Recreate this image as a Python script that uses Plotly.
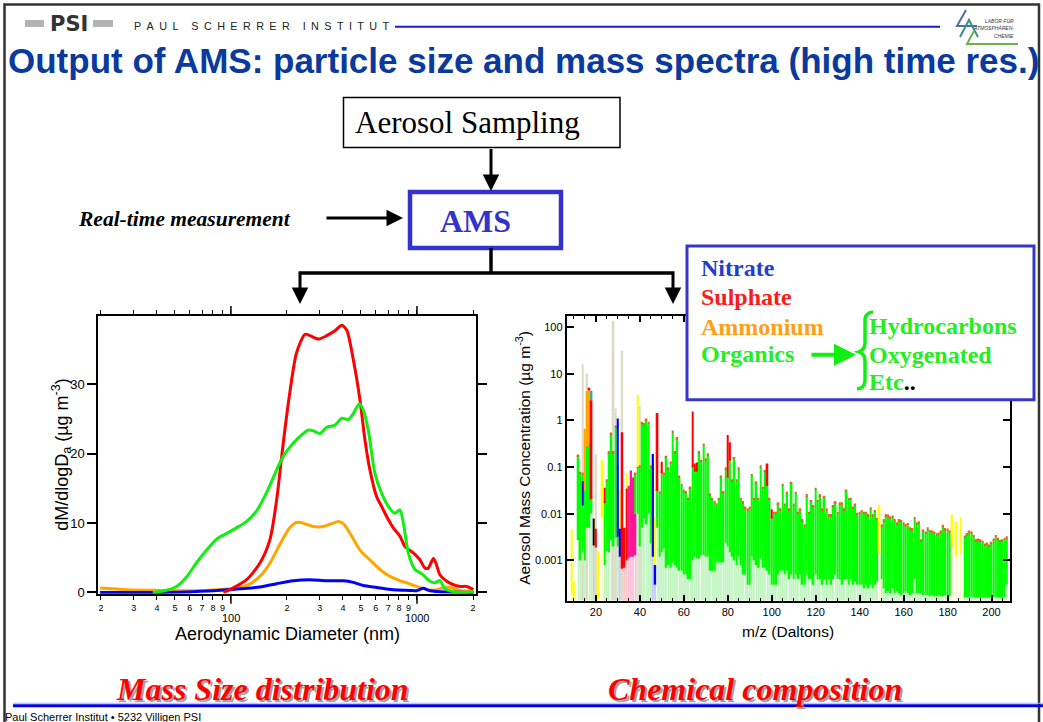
import math
import plotly.graph_objects as go

W, H = 1043, 722
K = 1.008  # small vertical calibration of the slide layout
def X(p): return p / W
def Y(p): return 1 - p * K / H
def P(x, y): return f"{X(x):.5f},{Y(y):.5f}"

SANS = "Liberation Sans, Arial, sans-serif"
SERIF = "Liberation Serif, Times New Roman, serif"

# ---------------- size distribution data (nm, ug m-3) ----------------
so4_d = [91, 100, 121, 143, 162, 176, 191, 207, 225, 250, 266, 295, 327, 362, 394, 419, 455, 494, 525, 558,
         607, 645, 701, 746, 810, 862, 955, 1037, 1104, 1151, 1224, 1265, 1330, 1445, 1568, 1702, 1849, 2010]
so4_v = [0, 0.48, 1.8, 4.2, 7.6, 13.3, 21.5, 28.7, 34.5, 37.2, 37.0, 36.5, 37.0, 37.7, 38.5, 37.8, 33.5, 27.7, 22.0, 17.7,
         13.8, 12.4, 10.5, 9.3, 8.1, 6.6, 5.7, 4.7, 3.5, 3.5, 4.9, 4.2, 2.5, 1.6, 1.1, 0.86, 0.86, 0.4]

org_d = [38, 45, 51, 58, 65, 74, 84, 95, 107, 121, 137, 155, 173, 191, 216, 240, 261, 277, 301, 327, 362, 394,
         428, 455, 490, 514, 547, 594, 645, 701, 762, 810, 845, 898, 975, 1059, 1175, 1250, 1330, 1413, 1568, 1774, 2010]
org_v = [0, 0.3, 0.86, 2.3, 4.2, 6.1, 7.7, 8.5, 9.3, 10.2, 11.7, 14.3, 17.2, 19.6, 21.5, 22.7, 23.4, 23.3, 22.9, 23.8, 24.1, 25.1,
         24.9, 25.8, 27.2, 26.3, 23.4, 17.2, 14.3, 12.4, 11.4, 11.9, 10.0, 5.7, 3.3, 2.7, 1.6, 1.4, 1.7, 0.5, 0.1, 0, 0.1]

nh4_d = [19.8, 27.5, 41.5, 62.7, 95, 121, 143, 162, 183, 207, 227, 250, 277, 314, 347, 378, 402, 446, 494, 558,
         632, 716, 810, 898, 995, 1127, 1275, 1445, 1702, 2010]
nh4_v = [0.62, 0.38, 0.29, 0.24, 0.48, 0.96, 2.3, 4.2, 6.9, 9.3, 10.1, 9.9, 9.5, 9.5, 9.9, 10.2, 9.9, 8.1, 6.1, 4.7,
         3.3, 2.3, 1.7, 1.3, 0.86, 0.38, 0.38, 0.77, 0.29, 0.1]

no3_d = [19.8, 41.5, 62.7, 95, 143, 176, 216, 266, 327, 402, 455, 514, 607, 746, 916, 995, 1081, 1175, 1445, 2010]
no3_v = [0, 0, 0.1, 0.38, 0.77, 1.25, 1.68, 1.82, 1.68, 1.68, 1.44, 1.0, 0.72, 0.38, 0.29, 0.24, 0.58, 0.24, 0.05, 0]

size_tickvals = [20, 30, 40, 50, 60, 70, 80, 90, 100, 200, 300, 400, 500, 600, 700, 800, 900, 1000, 2000]
size_ticktext = ["2", "3", "4", "5", "6", "7", "8", "9", "", "2", "3", "4", "5", "6", "7", "8", "9", "", "2"]
size_decade_labels = [100, 1000]

# ---------------- mass spectrum data (ug m-3) ----------------
mz = list(range(12, 208))
org_top = [
    0.17, 0.072, 0.07, 0.03, 0.27, 0.3, 0.02, None, None, None,            # 12-21
    None, None, 0.017, 0.05, 0.2, 0.5, 0.2, 0.72, 0.1, None,               # 22-31
    None, None, None, None, None, None, 0.07, 0.1, 0.1, 0.85,              # 32-41
    0.8, 1.0, 0.85, 0.1, None, None, 0.031, 0.028, 0.075, 0.07,            # 42-51
    0.16, 0.09, 0.12, 0.55, 0.2, 0.4, 0.06, 0.04, 0.03, 0.028,             # 52-61
    0.02, 0.035, 0.1, 0.08, 0.08, 0.2, 0.13, 0.29, 0.14, 0.18,             # 62-71
    0.025, 0.02, 0.017, 0.015, 0.02, 0.06, 0.028, 0.09, 0.06, 0.14,        # 72-81
    0.05, 0.15, 0.05, 0.09, 0.02, 0.017, 0.013, 0.012, 0.013, 0.065,       # 82-91
    0.02, 0.045, 0.02, 0.1, 0.035, 0.08, 0.04, 0.02, 0.008, 0.01,          # 92-101
    0.01, 0.016, 0.012, 0.04, 0.015, 0.027, 0.012, 0.044, 0.015, 0.027,    # 102-111
    0.01, 0.012, 0.007, 0.0054, 0.024, 0.01, 0.018, 0.014, 0.033, 0.018,   # 112-121
    0.024, 0.012, 0.022, 0.012, 0.009, 0.009, 0.014, 0.017, 0.01, 0.016,   # 122-131
    0.016, 0.012, 0.03, 0.02, 0.02, 0.013, 0.015, 0.0096, 0.01, 0.011,     # 132-141
    0.01, 0.01, 0.009, 0.0125, 0.009, 0.011, 0.0075, None, 0.0054, 0.007,  # 142-151
    0.009, 0.0088, 0.008, 0.0083, 0.007, 0.006, 0.007, 0.0068, 0.006, 0.0055,      # 152-161
    0.0058, 0.0047, 0.0045, 0.0078, 0.006, 0.0063, 0.0026, 0.0042, 0.0038, 0.0047, # 162-171
    0.0041, 0.004, 0.0038, 0.0035, 0.0036, 0.004, 0.0053, 0.0045, 0.0044, 0.004,   # 172-181
    None, None, None, None, None, None, 0.0031, 0.0035, 0.004, 0.0038,             # 182-191
    0.0032, 0.0026, 0.0027, 0.0026, 0.0024, 0.0021, 0.0022, 0.002, 0.0023, 0.0027, # 192-201
    0.0032, 0.0028, 0.0025, 0.0026, 0.0028, 0.003,                                 # 202-207
]
org_low = [
    0.0027, 0.001, 0.0015, 0.001, 0.005, 0.005, 0.01, None, None, None,
    None, None, 0.0008, 0.0016, 0.0015, 0.0027, 0.002, 0.003, 0.002, None,
    None, None, None, None, None, None, 0.01, 0.01, 0.002, 0.005,
    0.008, 0.006, 0.01, 0.0023, None, None, 0.005, 0.0012, 0.0015, 0.0018,
    0.0007, 0.0008, 0.0007, 0.0009, 0.0008, 0.0007, 0.0006, 0.0006, 0.0005, 0.0005,
    0.0004, 0.0004, 0.001, 0.0012, 0.0011, 0.0011, 0.0013, 0.0013, 0.0012, 0.0012,
    0.0006, 0.0006, 0.0006, 0.0009, 0.0009, 0.0009, 0.0009, 0.0024, 0.002, 0.0015,
    0.0012, 0.001, 0.0008, 0.0012, 0.0008, 0.0005, 0.0005, 0.0003, 0.0003, 0.0012,
    0.001, 0.0008, 0.0007, 0.0011, 0.0007, 0.0007, 0.0006, 0.0005, 0.0003, 0.0003,
    0.0003, 0.0005, 0.0006, 0.0006, 0.0005, 0.0006, 0.0004, 0.0005, 0.0004, 0.0005,
    0.0004, 0.0005, 0.0003, 0.0003, 0.0005, 0.0004, 0.0004, 0.0003, 0.0005, 0.0004,
    0.0004, 0.0003, 0.0004, 0.0003, 0.0004, 0.0003, 0.0004, 0.0005, 0.0004, 0.0004,
    0.0003, 0.0004, 0.0004, 0.0003, 0.0004, 0.0003, 0.00035, 0.0003, 0.0003, 0.0003,
    0.00025, 0.0003, 0.00025, 0.0003, 0.00025, 0.0003, 0.00035, None, 0.0004, 0.00025,
    0.0002, 0.00022, 0.0002, 0.00025, 0.0002, 0.00022, 0.0002, 0.00018, 0.0002, 0.00022,
    0.0002, 0.00018, 0.0002, 0.0004, 0.0002, 0.0002, 0.0002, 0.00018, 0.00018, 0.00018,
    0.00017, 0.00018, 0.00017, 0.00017, 0.00018, 0.00017, 0.00017, 0.00018, 0.00017, 0.00017,
    None, None, None, None, None, None, 0.00016, 0.00016, 0.00016, 0.00016,
    0.00016, 0.00016, 0.00016, 0.00016, 0.00016, 0.00016, 0.00016, 0.00016, 0.00016, 0.00016,
    0.00016, 0.00016, 0.00016, 0.00016, 0.00016, 0.0003,
]

air_mz = [14, 16, 20, 28, 29, 32, 40]
air_lo = [0.00014] * 7
air_hi = [16, 10, 0.19, 137, 1.8, 31, 2.0]

no3_mz = [14, 30, 31, 46, 47]
no3_lo = [0.015, 0.0032, 0.0012, 0.0012, 0.0003]
no3_hi = [0.05, 1.1, 0.0048, 0.19, 0.0008]

so4_mz = [17, 18, 20, 24, 32, 33, 34, 48, 50, 64, 65, 66, 80, 81, 98, 100]
so4_lo = [4.4, 0.021, 0.0019, 0.017, 0.00066, 0.0007, 0.001, 0.031, 0.075, 0.1, 0.08, 0.08, 0.06, 0.14, 0.04, 0.008]
so4_hi = [5.0, 2.7, 0.0048, 0.036, 0.56, 0.005, 0.035, 1.44, 0.13, 1.55, 0.12, 0.125, 0.49, 0.34, 0.12, 0.0125]

nh4_mz = [15, 16, 17]
nh4_lo = [0.03, 0.27, 0.3]
nh4_hi = [0.66, 4.2, 4.4]

chl_mz = [35, 36, 37, 38]
chl_lo = [0.0011, 0.0012, 0.0012, 0.0013]
chl_hi = [0.04, 0.085, 0.06, 0.01]

oth_mz = [9, 10, 21, 23, 31, 34, 39, 47, 149, 182, 184, 186]
oth_lo = [0.0002, 0.00014, 0.00015, 0.0085, 0.0048, 0.035, 0.1, 0.0008, 0.0014, 0.002, 0.0012, 0.0014]
oth_hi = [0.0047, 0.00035, 0.0016, 0.14, 0.031, 0.075, 3.5, 0.0085, 0.0155, 0.0095, 0.0068, 0.0083]

blk_mz = [19]
blk_lo = [0.0021]
blk_hi = [0.0079]

tea_mz = [18]
tea_lo = [2.7]
tea_hi = [4.3]

spec_tickvals = [0.001, 0.01, 0.1, 1, 10, 100]
spec_ticktext = ["0.001", "0.01", "0.1", "1", "10", "100"]

# ---------------- figure ----------------
GREEN, RED, ORANGE, BLUE = "#11ee11", "#ff0000", "#ffa500", "#0000ff"
fig = go.Figure()

for d, v, c in [(nh4_d, nh4_v, ORANGE), (no3_d, no3_v, BLUE), (so4_d, so4_v, RED), (org_d, org_v, GREEN)]:
    fig.add_trace(go.Scatter(x=d, y=v, mode="lines", xaxis="x", yaxis="y", hoverinfo="skip",
                             line=dict(color=c, width=3, shape="spline", smoothing=0.7)))

YLOG = [-3.864, 2.24]
FLOOR = 10 ** YLOG[0]

def seg(ms, lo, hi, color, width=0.8):
    xs, bs, ls = [], [], []
    for m, a, b in zip(ms, lo, hi):
        if a is None or b is None:
            continue
        xs.append(m); bs.append(a); ls.append(b - a)
    return go.Bar(x=xs, y=ls, base=bs, width=width, xaxis="x2", yaxis="y2", hoverinfo="skip",
                  marker=dict(color=color, line=dict(width=0)))

groups = [
    (mz, org_low, org_top, "#00ff00", "#c2f5c2"),
    (no3_mz, no3_lo, no3_hi, "#0000ff", "#c8c8ff"),
    (so4_mz, so4_lo, so4_hi, "#ff0000", "#ffc8c8"),
    (nh4_mz, nh4_lo, nh4_hi, "#ffa500", "#ffe2b0"),
    (chl_mz, chl_lo, chl_hi, "#ff1493", "#ffc2dc"),
    (oth_mz, oth_lo, oth_hi, "#ffff00", "#fffac0"),
    (blk_mz, blk_lo, blk_hi, "#000000", "#d0d0d0"),
    (tea_mz, tea_lo, tea_hi, "#20b2aa", "#c0eeee"),
]
lowest = {}
for ms, lo, hi, col, pale in groups:
    for m, a in zip(ms, lo):
        if a is None:
            continue
        if m not in lowest or a < lowest[m][0]:
            lowest[m] = (a, pale)
pale_cols = {}
for m, (a, pale) in lowest.items():
    pale_cols.setdefault(pale, ([], [], []))
    pale_cols[pale][0].append(m); pale_cols[pale][1].append(FLOOR); pale_cols[pale][2].append(a)
for pale, (ms, lo, hi) in pale_cols.items():
    fig.add_trace(seg(ms, lo, hi, pale, width=0.55))

fig.add_trace(seg(air_mz, air_lo, air_hi, "#dedac6"))
fig.add_trace(seg(mz, org_low, org_top, "#00ff00"))
cap_lo = [t for t in org_top]
cap_hi = [t * 1.1 if t is not None else None for t in org_top]
fig.add_trace(seg(mz, cap_lo, cap_hi, "#d86a2a"))
for ms, lo, hi, col, pale in groups[5:] + groups[3:5] + groups[1:3]:
    fig.add_trace(seg(ms, lo, hi, col))

# ---------------- axes ----------------
XL = [math.log10(19.37), math.log10(2068)]
LPX = (98.3, 475.7)
def size_px(d):
    return LPX[0] + (math.log10(d) - XL[0]) / (XL[1] - XL[0]) * (LPX[1] - LPX[0])

axcommon = dict(linecolor="black", linewidth=2, mirror="allticks", showgrid=False, zeroline=False,
                tickcolor="black")
fig.update_layout(
    width=W, height=H, margin=dict(l=0, r=0, t=0, b=0),
    paper_bgcolor="white", plot_bgcolor="white", showlegend=False, barmode="overlay",
    font=dict(family=SANS, color="black"),
    xaxis=dict(type="log", range=XL, domain=[X(LPX[0]), X(LPX[1])], anchor="y",
               tickmode="array", tickvals=size_tickvals, ticktext=size_ticktext,
               ticks="outside", ticklen=4, tickwidth=1, tickfont=dict(size=9, color="black", family=SANS), **axcommon),
    yaxis=dict(range=[-0.2, 39.85], domain=[Y(594), Y(316)], anchor="x", tickmode="array",
               tickvals=[0, 10, 20, 30], ticks="outside", ticklen=9, tickwidth=1.5,
               tickfont=dict(size=13, color="black", family=SANS), **axcommon),
    xaxis2=dict(range=[6.7, 208.4], domain=[X(566.7), X(1010)], anchor="y2", tick0=0, dtick=20,
                ticks="inside", ticklen=6, tickwidth=1.5,
                minor=dict(tick0=0, dtick=5, ticks="inside", ticklen=3, tickwidth=1, tickcolor="black"),
                tickfont=dict(size=11, color="black", family=SANS), **axcommon),
    yaxis2=dict(type="log", range=YLOG, domain=[Y(601), Y(316)], anchor="x2", tickmode="array",
                tickvals=spec_tickvals, ticktext=spec_ticktext, ticks="inside", ticklen=7, tickwidth=1.5,
                tickfont=dict(size=11, color="black", family=SANS), **axcommon),
)

# ---------------- slide decoration ----------------
shapes = []
def line(x0, y0, x1, y1, color="black", width=3):
    shapes.append(dict(type="line", xref="paper", yref="paper", x0=X(x0), y0=Y(y0), x1=X(x1), y1=Y(y1),
                       line=dict(color=color, width=width), layer="above"))
def rect(x0, y0, x1, y1, color="black", width=1, fill=None):
    shapes.append(dict(type="rect", xref="paper", yref="paper", x0=X(x0), y0=Y(y1), x1=X(x1), y1=Y(y0),
                       line=dict(color=color, width=width), fillcolor=fill, layer="above"))
def path(d, color, width):
    shapes.append(dict(type="path", xref="paper", yref="paper", path=d, line=dict(color=color, width=width), layer="above"))

rect(4.5, 4.5, 1039, 724, color="#333333", width=2.5)
# PSI logo
rect(25, 20, 113, 27, color="rgba(0,0,0,0)", width=0, fill="#b3b3b3")
rect(44, 13, 93, 34, color="rgba(0,0,0,0)", width=0, fill="white")
line(395, 26.7, 940, 26.7, color="#1a1ad6", width=2)
# LAC logo
path("M " + P(966, 10) + " L " + P(957, 26) + " L " + P(977, 26), "#4f6f9f", 2)
path("M " + P(960, 37) + " L " + P(969, 20) + " L " + P(978, 37), "#3a8f8f", 2)
path("M " + P(974, 31) + " L " + P(967, 44) + " L " + P(1018, 44), "#6ab04c", 2)
# flow chart
rect(343.5, 97.5, 620, 147.5, color="black", width=1.5, fill="white")
rect(410, 192, 561, 248, color="#3333cc", width=4.5, fill="white")
line(491, 248, 491, 273, width=3.5)
line(298.5, 273, 674.5, 273, width=3.5)
# legend box
rect(687, 246, 1034, 400, color="#3636c8", width=3, fill="white")
path("M " + P(873, 312) + " Q " + P(864, 313) + " " + P(865, 323) + " L " + P(865, 343) + " Q " + P(865, 350) + " " + P(859, 352)
     + " Q " + P(865, 354) + " " + P(865, 361) + " L " + P(865, 381) + " Q " + P(864, 389) + " " + P(857, 389), "#11ee11", 3.5)
# bottom line
line(13, 703.5, 1043, 703.5, color="#a8b4ff", width=1)
line(13, 706, 1043, 706, color="#0000e6", width=3)
# long decade ticks on size axis
for d in size_decade_labels:
    xp = size_px(d)
    line(xp, 594, xp, 604, width=1.5)
    line(xp, 316, xp, 306, width=1.5)

anns = []
def txt(s, x, y, size, color="black", family=SANS, xanchor="center", yanchor="middle", **kw):
    anns.append(dict(text=s, x=X(x), y=Y(y), xref="paper", yref="paper", showarrow=False,
                     font=dict(size=size, color=color, family=family), xanchor=xanchor, yanchor=yanchor, **kw))
def arrow(x0, y0, x1, y1, color="black", width=3):
    anns.append(dict(text="", x=X(x1), y=Y(y1), xref="paper", yref="paper", showarrow=True,
                     ax=x0 - x1, ay=(y0 - y1) * K, axref="pixel", ayref="pixel", arrowhead=2, arrowsize=1.1,
                     arrowwidth=width, arrowcolor=color, standoff=0))

txt("<b>PSI</b>", 68.5, 24, 21, color="#333333", family="DejaVu Sans")
sp = "\u2002"
psi_name = "\u2003\u2009".join(sp.join(w) for w in ["PAUL", "SCHERRER", "INSTITUT"])
txt(psi_name, 132, 26, 10.8, color="#222222", xanchor="left")
txt("<i>LABOR FÜR</i>", 1016, 21, 5, color="#333333", xanchor="right")
txt("<i>ATMOSPHÄREN-</i>", 1016, 28.5, 5, color="#333333", xanchor="right")
txt("<i>CHEMIE</i>", 1016, 36.5, 5, color="#333333", xanchor="right")
txt("<b>Output of AMS: particle size and mass spectra (high time res.)</b>", 523.5, 61, 35, color="#0a3a9e")
txt("Aerosol Sampling", 353, 123, 31, family=SERIF, xanchor="left")
txt("<b>AMS</b>", 475, 221, 32, color="#3333cc", family=SERIF)
txt("<b><i>Real-time measurement</i></b>", 76, 219, 21.5, family=SERIF, xanchor="left")
arrow(491, 148, 491, 191)
arrow(325, 218, 403, 218)
arrow(300, 273, 300, 304)
arrow(673, 273, 673, 304)
arrow(810, 355, 856, 355, color="#11ee11", width=4)

for s, yc, col in [("Nitrate", 268, "#1f3fcc"), ("Sulphate", 297.5, "#ff1a1a"),
                   ("Ammonium", 326.8, "#ff9f14"), ("Organics", 354.5, "#22ee22")]:
    txt(f"<b>{s}</b>", 699, yc, 24, color=col, family=SERIF, xanchor="left")
txt("<b>Hydrocarbons</b>", 867, 326.5, 24, color="#22ee22", family=SERIF, xanchor="left")
txt("<b>Oxygenated</b>", 867, 355, 24, color="#22ee22", family=SERIF, xanchor="left")
txt("<b><span style='color:#22ee22'>Etc</span>..</b>", 867, 381.7, 24, color="black", family=SERIF, xanchor="left")

# axis labels
for d in size_decade_labels:
    txt(str(d), size_px(d), 618, 11)
txt("Aerodynamic Diameter (nm)", 287, 634.5, 18)
txt("dM/dlogD<sub>a</sub> (µg m<sup>-3</sup>)", 62, 455, 18, textangle=-90)
txt("m/z (Daltons)", 788, 632, 15.5)
txt("Aerosol Mass Concentration (µg m<sup>-3</sup>)", 523, 458, 15.5, textangle=-90)

# section titles
for s, xc in [("Mass Size distribution", 262.5), ("Chemical composition", 755)]:
    txt(f"<b><i>{s}</i></b>", xc + 2, 691, 32, color="#a0a0a0", family=SERIF)
    txt(f"<b><i>{s}</i></b>", xc, 689, 32, color="#ff0000", family=SERIF)
txt("Paul Scherrer Institut • 5232 Villigen PSI", 3, 717, 11, xanchor="left")

fig.update_layout(shapes=shapes, annotations=anns)
fig.write_html("out.html")
